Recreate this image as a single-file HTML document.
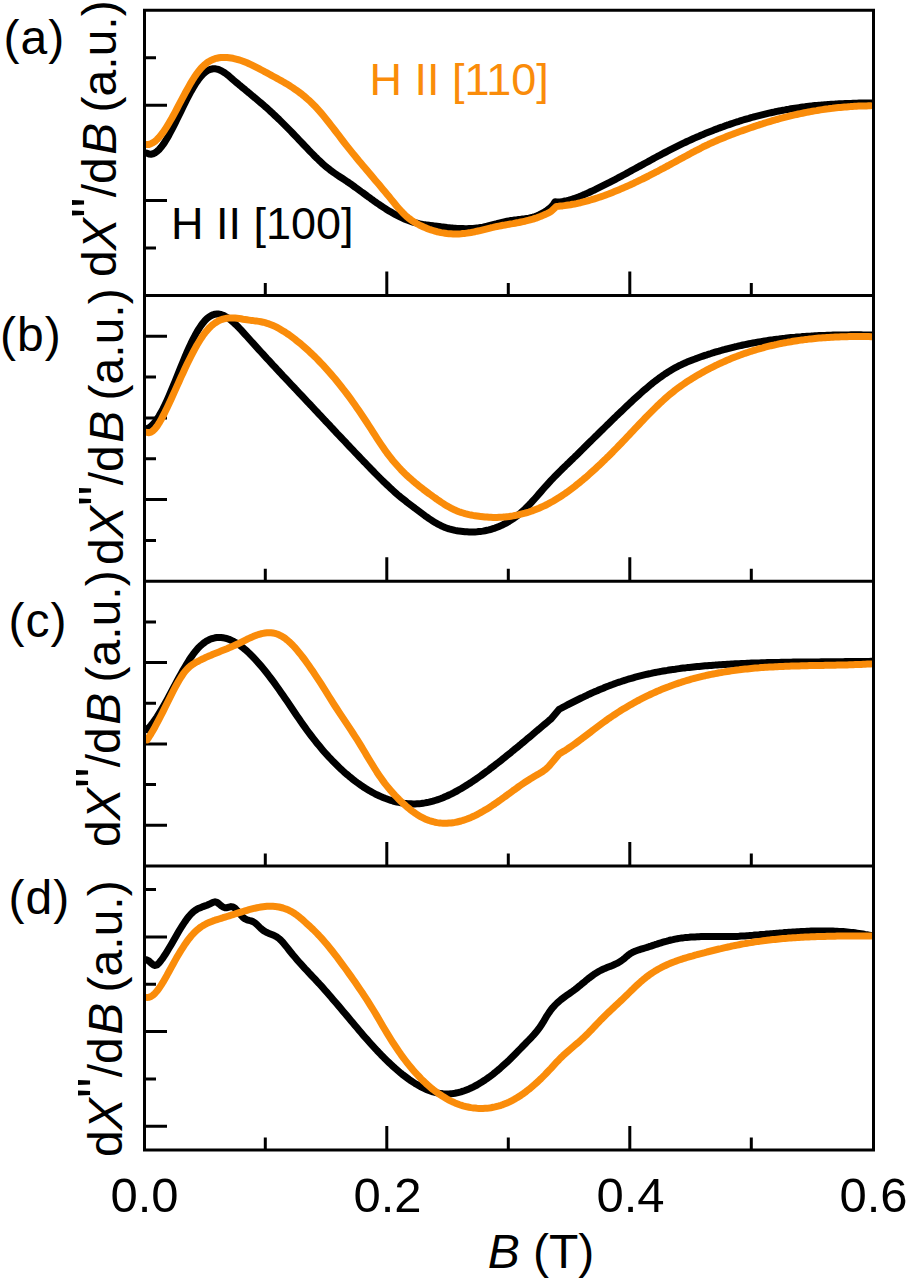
<!DOCTYPE html>
<html><head><meta charset="utf-8"><style>html,body{margin:0;padding:0;background:#fff;width:907px;height:1280px;overflow:hidden}svg{display:block}</style></head>
<body><svg width="907" height="1280" viewBox="0 0 907 1280">
<rect width="907" height="1280" fill="#fff"/>
<g stroke="#000" stroke-width="3" fill="none" stroke-linecap="square">
<rect x="144.5" y="10.25" width="729.0" height="1139.75"/>
<line x1="144.5" y1="295.5" x2="873.5" y2="295.5"/>
<line x1="144.5" y1="581.25" x2="873.5" y2="581.25"/>
<line x1="144.5" y1="865.9" x2="873.5" y2="865.9"/>
</g>
<path d="M265.3,295.5 V283.0 M386.8,295.5 V271.5 M508.3,295.5 V283.0 M629.8,295.5 V271.5 M751.3,295.5 V283.0 M265.3,581.2 V568.8 M386.8,581.2 V557.2 M508.3,581.2 V568.8 M629.8,581.2 V557.2 M751.3,581.2 V568.8 M265.3,865.9 V853.4 M386.8,865.9 V841.9 M508.3,865.9 V853.4 M629.8,865.9 V841.9 M751.3,865.9 V853.4 M265.3,1150.0 V1137.5 M386.8,1150.0 V1126.0 M508.3,1150.0 V1137.5 M629.8,1150.0 V1126.0 M751.3,1150.0 V1137.5 M144.5,57.8 H156.0 M144.5,105.3 H167.0 M144.5,152.9 H156.0 M144.5,200.4 H167.0 M144.5,248.0 H156.0 M144.5,336.3 H167.0 M144.5,377.1 H156.0 M144.5,418.0 H167.0 M144.5,458.8 H156.0 M144.5,499.6 H167.0 M144.5,540.4 H156.0 M144.5,621.9 H156.0 M144.5,662.6 H167.0 M144.5,703.2 H156.0 M144.5,743.9 H167.0 M144.5,784.6 H156.0 M144.5,825.2 H167.0 M144.5,889.6 H156.0 M144.5,936.9 H167.0 M144.5,984.3 H156.0 M144.5,1031.6 H167.0 M144.5,1079.0 H156.0 M144.5,1126.3 H167.0" stroke="#000" stroke-width="3" fill="none"/>
<defs><clipPath id="pc"><rect x="146" y="0" width="726" height="1280"/></clipPath></defs><g clip-path="url(#pc)">
<path d="M147.0,153.2 L149.0,154.0 L151.0,154.2 L153.0,153.8 L155.0,152.8 L157.0,151.4 L159.0,149.6 L161.0,147.3 L163.0,144.7 L165.0,141.7 L167.0,138.4 L169.0,134.9 L171.0,131.2 L173.0,127.4 L175.0,123.4 L177.0,119.3 L179.0,115.2 L181.0,111.1 L183.0,107.0 L185.0,102.9 L187.0,99.0 L189.0,95.1 L191.0,91.4 L193.0,87.9 L195.0,84.6 L197.0,81.6 L199.0,78.8 L201.0,76.3 L203.0,74.1 L205.0,72.3 L207.0,70.9 L209.0,69.8 L211.0,69.2 L213.0,68.8 L215.0,68.8 L217.0,69.1 L219.0,69.7 L221.0,70.6 L223.0,71.7 L225.0,73.0 L227.0,74.5 L229.0,76.1 L231.0,77.8 L233.0,79.6 L235.0,81.3 L237.0,83.0 L239.0,84.7 L241.0,86.3 L243.0,88.0 L245.0,89.6 L247.0,91.3 L249.0,92.9 L251.0,94.6 L253.0,96.3 L255.0,97.9 L257.0,99.6 L259.0,101.3 L261.0,103.0 L263.0,104.7 L265.0,106.5 L267.0,108.2 L269.0,110.0 L271.0,111.9 L273.0,113.7 L275.0,115.6 L277.0,117.5 L279.0,119.4 L281.0,121.4 L283.0,123.4 L285.0,125.4 L287.0,127.4 L289.0,129.4 L291.0,131.4 L293.0,133.5 L295.0,135.6 L297.0,137.7 L299.0,139.8 L301.0,141.9 L303.0,144.0 L305.0,146.1 L307.0,148.2 L309.0,150.3 L311.0,152.4 L313.0,154.4 L315.0,156.5 L317.0,158.4 L319.0,160.4 L321.0,162.2 L323.0,164.1 L325.0,165.8 L327.0,167.5 L329.0,169.1 L331.0,170.7 L333.0,172.1 L335.0,173.5 L337.0,174.9 L339.0,176.2 L341.0,177.5 L343.0,178.8 L345.0,180.1 L347.0,181.5 L349.0,182.8 L351.0,184.2 L353.0,185.6 L355.0,187.1 L357.0,188.5 L359.0,190.0 L361.0,191.5 L363.0,192.9 L365.0,194.4 L367.0,195.9 L369.0,197.3 L371.0,198.8 L373.0,200.2 L375.0,201.7 L377.0,203.1 L379.0,204.4 L381.0,205.8 L383.0,207.1 L385.0,208.4 L387.0,209.7 L389.0,210.9 L391.0,212.1 L393.0,213.3 L395.0,214.4 L397.0,215.4 L399.0,216.4 L401.0,217.4 L403.0,218.3 L405.0,219.2 L407.0,220.0 L409.0,220.7 L411.0,221.4 L413.0,222.1 L415.0,222.7 L417.0,223.2 L419.0,223.7 L421.0,224.1 L423.0,224.5 L425.0,224.8 L427.0,225.1 L429.0,225.3 L431.0,225.6 L433.0,225.8 L435.0,226.1 L437.0,226.3 L439.0,226.5 L441.0,226.8 L443.0,227.0 L445.0,227.2 L447.0,227.5 L449.0,227.7 L451.0,227.9 L453.0,228.1 L455.0,228.2 L457.0,228.4 L459.0,228.5 L461.0,228.6 L463.0,228.6 L465.0,228.7 L467.0,228.7 L469.0,228.6 L471.0,228.5 L473.0,228.4 L475.0,228.2 L477.0,228.0 L479.0,227.8 L481.0,227.4 L483.0,227.1 L485.0,226.6 L487.0,226.2 L489.0,225.7 L491.0,225.2 L493.0,224.7 L495.0,224.2 L497.0,223.7 L499.0,223.1 L501.0,222.6 L503.0,222.1 L505.0,221.7 L507.0,221.3 L509.0,220.9 L511.0,220.5 L513.0,220.3 L515.0,220.0 L517.0,219.8 L519.0,219.5 L521.0,219.3 L523.0,219.0 L525.0,218.8 L527.0,218.4 L529.0,218.1 L531.0,217.6 L533.0,217.1 L535.0,216.5 L537.0,215.8 L539.0,215.0 L541.0,214.0 L543.0,213.0 L545.0,211.7 L547.0,210.3 L549.0,208.8 L551.0,207.0 L553.0,205.1 L555.0,201.8 L557.0,201.9 L559.0,201.9 L561.0,201.7 L563.0,201.4 L565.0,201.0 L567.0,200.6 L569.0,200.1 L571.0,199.5 L573.0,198.9 L575.0,198.2 L577.0,197.5 L579.0,196.8 L581.0,196.0 L583.0,195.1 L585.0,194.3 L587.0,193.4 L589.0,192.5 L591.0,191.5 L593.0,190.6 L595.0,189.7 L597.0,188.7 L599.0,187.7 L601.0,186.7 L603.0,185.7 L605.0,184.7 L607.0,183.7 L609.0,182.7 L611.0,181.6 L613.0,180.6 L615.0,179.6 L617.0,178.5 L619.0,177.4 L621.0,176.4 L623.0,175.3 L625.0,174.2 L627.0,173.1 L629.0,172.0 L631.0,170.9 L633.0,169.8 L635.0,168.7 L637.0,167.6 L639.0,166.5 L641.0,165.5 L643.0,164.4 L645.0,163.3 L647.0,162.2 L649.0,161.1 L651.0,160.0 L653.0,158.9 L655.0,157.8 L657.0,156.7 L659.0,155.7 L661.0,154.6 L663.0,153.5 L665.0,152.5 L667.0,151.5 L669.0,150.4 L671.0,149.4 L673.0,148.4 L675.0,147.4 L677.0,146.4 L679.0,145.4 L681.0,144.4 L683.0,143.4 L685.0,142.5 L687.0,141.5 L689.0,140.6 L691.0,139.7 L693.0,138.8 L695.0,137.9 L697.0,137.0 L699.0,136.2 L701.0,135.3 L703.0,134.5 L705.0,133.6 L707.0,132.8 L709.0,132.0 L711.0,131.2 L713.0,130.4 L715.0,129.6 L717.0,128.9 L719.0,128.1 L721.0,127.4 L723.0,126.7 L725.0,125.9 L727.0,125.2 L729.0,124.6 L731.0,123.9 L733.0,123.2 L735.0,122.5 L737.0,121.9 L739.0,121.3 L741.0,120.6 L743.0,120.0 L745.0,119.4 L747.0,118.8 L749.0,118.3 L751.0,117.7 L753.0,117.2 L755.0,116.6 L757.0,116.1 L759.0,115.6 L761.0,115.1 L763.0,114.6 L765.0,114.1 L767.0,113.6 L769.0,113.1 L771.0,112.7 L773.0,112.3 L775.0,111.8 L777.0,111.4 L779.0,111.0 L781.0,110.6 L783.0,110.2 L785.0,109.9 L787.0,109.5 L789.0,109.2 L791.0,108.8 L793.0,108.5 L795.0,108.2 L797.0,107.9 L799.0,107.6 L801.0,107.3 L803.0,107.0 L805.0,106.8 L807.0,106.5 L809.0,106.3 L811.0,106.1 L813.0,105.8 L815.0,105.6 L817.0,105.4 L819.0,105.2 L821.0,105.1 L823.0,104.9 L825.0,104.7 L827.0,104.6 L829.0,104.4 L831.0,104.3 L833.0,104.2 L835.0,104.1 L837.0,103.9 L839.0,103.8 L841.0,103.7 L843.0,103.7 L845.0,103.6 L847.0,103.5 L849.0,103.4 L851.0,103.4 L853.0,103.3 L855.0,103.2 L857.0,103.2 L859.0,103.1 L861.0,103.1 L863.0,103.1 L865.0,103.0 L867.0,103.0 L869.0,103.0 L871.0,103.0" stroke="#000" stroke-width="7" fill="none" stroke-linejoin="round" stroke-linecap="round"/>
<path d="M147.0,144.5 L149.0,144.4 L151.0,143.7 L153.0,142.7 L155.0,141.3 L157.0,139.5 L159.0,137.4 L161.0,135.0 L163.0,132.4 L165.0,129.5 L167.0,126.3 L169.0,123.0 L171.0,119.6 L173.0,116.0 L175.0,112.3 L177.0,108.5 L179.0,104.7 L181.0,100.9 L183.0,97.1 L185.0,93.3 L187.0,89.7 L189.0,86.1 L191.0,82.6 L193.0,79.3 L195.0,76.2 L197.0,73.3 L199.0,70.7 L201.0,68.3 L203.0,66.3 L205.0,64.4 L207.0,62.8 L209.0,61.5 L211.0,60.4 L213.0,59.5 L215.0,58.7 L217.0,58.2 L219.0,57.8 L221.0,57.5 L223.0,57.4 L225.0,57.4 L227.0,57.5 L229.0,57.7 L231.0,58.0 L233.0,58.3 L235.0,58.8 L237.0,59.3 L239.0,59.9 L241.0,60.5 L243.0,61.2 L245.0,62.0 L247.0,62.8 L249.0,63.7 L251.0,64.6 L253.0,65.6 L255.0,66.6 L257.0,67.6 L259.0,68.6 L261.0,69.7 L263.0,70.8 L265.0,71.9 L267.0,72.9 L269.0,74.0 L271.0,75.1 L273.0,76.2 L275.0,77.3 L277.0,78.4 L279.0,79.5 L281.0,80.6 L283.0,81.8 L285.0,82.9 L287.0,84.1 L289.0,85.3 L291.0,86.6 L293.0,87.9 L295.0,89.3 L297.0,90.7 L299.0,92.1 L301.0,93.6 L303.0,95.2 L305.0,96.8 L307.0,98.6 L309.0,100.3 L311.0,102.2 L313.0,104.2 L315.0,106.2 L317.0,108.4 L319.0,110.6 L321.0,112.9 L323.0,115.3 L325.0,117.7 L327.0,120.2 L329.0,122.7 L331.0,125.3 L333.0,127.9 L335.0,130.5 L337.0,133.1 L339.0,135.7 L341.0,138.4 L343.0,141.0 L345.0,143.6 L347.0,146.1 L349.0,148.6 L351.0,151.1 L353.0,153.6 L355.0,156.0 L357.0,158.5 L359.0,160.9 L361.0,163.3 L363.0,165.7 L365.0,168.1 L367.0,170.4 L369.0,172.8 L371.0,175.1 L373.0,177.5 L375.0,179.9 L377.0,182.2 L379.0,184.6 L381.0,187.0 L383.0,189.4 L385.0,191.8 L387.0,194.2 L389.0,196.6 L391.0,199.1 L393.0,201.5 L395.0,204.0 L397.0,206.4 L399.0,208.7 L401.0,210.9 L403.0,213.0 L405.0,215.0 L407.0,216.8 L409.0,218.4 L411.0,219.9 L413.0,221.3 L415.0,222.5 L417.0,223.7 L419.0,224.8 L421.0,225.8 L423.0,226.7 L425.0,227.6 L427.0,228.4 L429.0,229.2 L431.0,229.9 L433.0,230.5 L435.0,231.1 L437.0,231.7 L439.0,232.1 L441.0,232.6 L443.0,232.9 L445.0,233.2 L447.0,233.5 L449.0,233.7 L451.0,233.8 L453.0,233.9 L455.0,234.0 L457.0,234.0 L459.0,233.9 L461.0,233.8 L463.0,233.6 L465.0,233.4 L467.0,233.1 L469.0,232.8 L471.0,232.5 L473.0,232.1 L475.0,231.7 L477.0,231.2 L479.0,230.8 L481.0,230.3 L483.0,229.8 L485.0,229.3 L487.0,228.8 L489.0,228.3 L491.0,227.8 L493.0,227.4 L495.0,226.9 L497.0,226.5 L499.0,226.1 L501.0,225.7 L503.0,225.3 L505.0,225.0 L507.0,224.6 L509.0,224.3 L511.0,223.9 L513.0,223.6 L515.0,223.2 L517.0,222.8 L519.0,222.5 L521.0,222.0 L523.0,221.6 L525.0,221.2 L527.0,220.7 L529.0,220.2 L531.0,219.6 L533.0,219.1 L535.0,218.4 L537.0,217.8 L539.0,217.0 L541.0,216.3 L543.0,215.4 L545.0,214.5 L547.0,213.6 L549.0,212.6 L551.0,211.5 L556.5,206.4 L558.5,206.3 L560.5,206.1 L562.5,205.9 L564.5,205.6 L566.5,205.3 L568.5,205.0 L570.5,204.7 L572.5,204.3 L574.5,204.0 L576.5,203.6 L578.5,203.1 L580.5,202.7 L582.5,202.2 L584.5,201.7 L586.5,201.2 L588.5,200.6 L590.5,200.0 L592.5,199.4 L594.5,198.8 L596.5,198.2 L598.5,197.5 L600.5,196.9 L602.5,196.2 L604.5,195.5 L606.5,194.7 L608.5,194.0 L610.5,193.2 L612.5,192.4 L614.5,191.6 L616.5,190.8 L618.5,190.0 L620.5,189.1 L622.5,188.3 L624.5,187.4 L626.5,186.5 L628.5,185.6 L630.5,184.7 L632.5,183.8 L634.5,182.8 L636.5,181.9 L638.5,180.9 L640.5,179.9 L642.5,179.0 L644.5,178.0 L646.5,177.0 L648.5,176.0 L650.5,174.9 L652.5,173.9 L654.5,172.9 L656.5,171.8 L658.5,170.8 L660.5,169.7 L662.5,168.7 L664.5,167.6 L666.5,166.5 L668.5,165.5 L670.5,164.4 L672.5,163.3 L674.5,162.2 L676.5,161.1 L678.5,160.0 L680.5,158.9 L682.5,157.9 L684.5,156.8 L686.5,155.7 L688.5,154.6 L690.5,153.5 L692.5,152.4 L694.5,151.4 L696.5,150.3 L698.5,149.3 L700.5,148.3 L702.5,147.2 L704.5,146.2 L706.5,145.3 L708.5,144.3 L710.5,143.4 L712.5,142.5 L714.5,141.6 L716.5,140.7 L718.5,139.8 L720.5,139.0 L722.5,138.2 L724.5,137.4 L726.5,136.6 L728.5,135.8 L730.5,135.0 L732.5,134.3 L734.5,133.5 L736.5,132.8 L738.5,132.0 L740.5,131.3 L742.5,130.6 L744.5,129.9 L746.5,129.2 L748.5,128.5 L750.5,127.8 L752.5,127.1 L754.5,126.4 L756.5,125.7 L758.5,125.1 L760.5,124.4 L762.5,123.8 L764.5,123.1 L766.5,122.5 L768.5,121.9 L770.5,121.3 L772.5,120.7 L774.5,120.1 L776.5,119.5 L778.5,119.0 L780.5,118.4 L782.5,117.9 L784.5,117.4 L786.5,116.9 L788.5,116.4 L790.5,115.9 L792.5,115.4 L794.5,114.9 L796.5,114.5 L798.5,114.0 L800.5,113.6 L802.5,113.2 L804.5,112.8 L806.5,112.4 L808.5,112.0 L810.5,111.6 L812.5,111.2 L814.5,110.9 L816.5,110.6 L818.5,110.2 L820.5,109.9 L822.5,109.6 L824.5,109.3 L826.5,109.0 L828.5,108.8 L830.5,108.5 L832.5,108.3 L834.5,108.0 L836.5,107.8 L838.5,107.6 L840.5,107.4 L842.5,107.2 L844.5,107.0 L846.5,106.9 L848.5,106.7 L850.5,106.6 L852.5,106.4 L854.5,106.3 L856.5,106.2 L858.5,106.1 L860.5,106.0 L862.5,106.0 L864.5,105.9 L866.5,105.9 L868.5,105.8 L870.5,105.8" stroke="#FA8C0A" stroke-width="7" fill="none" stroke-linejoin="round" stroke-linecap="round"/>
<path d="M147.0,428.5 L149.0,427.7 L151.0,426.2 L153.0,424.3 L155.0,422.0 L157.0,419.2 L159.0,416.1 L161.0,412.6 L163.0,408.8 L165.0,404.7 L167.0,400.4 L169.0,395.9 L171.0,391.2 L173.0,386.4 L175.0,381.5 L177.0,376.5 L179.0,371.5 L181.0,366.6 L183.0,361.7 L185.0,356.9 L187.0,352.2 L189.0,347.7 L191.0,343.4 L193.0,339.4 L195.0,335.5 L197.0,331.9 L199.0,328.6 L201.0,325.6 L203.0,322.9 L205.0,320.5 L207.0,318.5 L209.0,316.9 L211.0,315.7 L213.0,314.8 L215.0,314.2 L217.0,314.0 L219.0,314.1 L221.0,314.5 L223.0,315.2 L225.0,316.2 L227.0,317.3 L229.0,318.7 L231.0,320.3 L233.0,322.0 L235.0,323.9 L237.0,325.8 L239.0,327.8 L241.0,329.9 L243.0,332.1 L245.0,334.3 L247.0,336.5 L249.0,338.8 L251.0,341.0 L253.0,343.2 L255.0,345.4 L257.0,347.6 L259.0,349.8 L261.0,352.0 L263.0,354.2 L265.0,356.4 L267.0,358.6 L269.0,360.7 L271.0,362.9 L273.0,365.1 L275.0,367.2 L277.0,369.4 L279.0,371.5 L281.0,373.6 L283.0,375.8 L285.0,377.9 L287.0,380.0 L289.0,382.2 L291.0,384.3 L293.0,386.4 L295.0,388.5 L297.0,390.7 L299.0,392.8 L301.0,394.9 L303.0,397.0 L305.0,399.2 L307.0,401.3 L309.0,403.4 L311.0,405.5 L313.0,407.7 L315.0,409.8 L317.0,411.9 L319.0,414.1 L321.0,416.2 L323.0,418.3 L325.0,420.5 L327.0,422.6 L329.0,424.7 L331.0,426.9 L333.0,429.0 L335.0,431.1 L337.0,433.3 L339.0,435.4 L341.0,437.5 L343.0,439.6 L345.0,441.7 L347.0,443.9 L349.0,446.0 L351.0,448.1 L353.0,450.2 L355.0,452.3 L357.0,454.4 L359.0,456.5 L361.0,458.6 L363.0,460.7 L365.0,462.7 L367.0,464.8 L369.0,466.9 L371.0,469.0 L373.0,471.0 L375.0,473.1 L377.0,475.1 L379.0,477.1 L381.0,479.1 L383.0,481.1 L385.0,483.0 L387.0,484.9 L389.0,486.8 L391.0,488.7 L393.0,490.5 L395.0,492.3 L397.0,494.1 L399.0,495.8 L401.0,497.4 L403.0,499.0 L405.0,500.6 L407.0,502.2 L409.0,503.7 L411.0,505.2 L413.0,506.7 L415.0,508.3 L417.0,509.8 L419.0,511.3 L421.0,512.8 L423.0,514.3 L425.0,515.8 L427.0,517.2 L429.0,518.6 L431.0,519.9 L433.0,521.2 L435.0,522.4 L437.0,523.6 L439.0,524.7 L441.0,525.7 L443.0,526.6 L445.0,527.5 L447.0,528.2 L449.0,528.9 L451.0,529.4 L453.0,529.9 L455.0,530.4 L457.0,530.7 L459.0,531.1 L461.0,531.3 L463.0,531.5 L465.0,531.7 L467.0,531.8 L469.0,531.9 L471.0,531.9 L473.0,531.9 L475.0,531.9 L477.0,531.8 L479.0,531.6 L481.0,531.4 L483.0,531.1 L485.0,530.7 L487.0,530.3 L489.0,529.9 L491.0,529.3 L493.0,528.7 L495.0,528.1 L497.0,527.3 L499.0,526.5 L501.0,525.6 L503.0,524.7 L505.0,523.7 L507.0,522.6 L509.0,521.4 L511.0,520.1 L513.0,518.8 L515.0,517.4 L517.0,515.9 L519.0,514.3 L521.0,512.6 L523.0,510.8 L525.0,509.0 L527.0,507.0 L529.0,505.0 L531.0,502.9 L533.0,500.7 L535.0,498.5 L537.0,496.2 L539.0,493.9 L541.0,491.6 L543.0,489.3 L545.0,487.0 L547.0,484.8 L549.0,482.6 L551.0,480.4 L553.0,478.3 L555.0,476.2 L557.0,474.2 L559.0,472.2 L561.0,470.3 L563.0,468.3 L565.0,466.4 L567.0,464.4 L569.0,462.5 L571.0,460.5 L573.0,458.6 L575.0,456.6 L577.0,454.7 L579.0,452.7 L581.0,450.7 L583.0,448.8 L585.0,446.8 L587.0,444.8 L589.0,442.8 L591.0,440.9 L593.0,438.9 L595.0,436.9 L597.0,435.0 L599.0,433.0 L601.0,431.0 L603.0,429.1 L605.0,427.1 L607.0,425.1 L609.0,423.2 L611.0,421.2 L613.0,419.3 L615.0,417.4 L617.0,415.4 L619.0,413.5 L621.0,411.6 L623.0,409.7 L625.0,407.8 L627.0,405.9 L629.0,404.0 L631.0,402.1 L633.0,400.2 L635.0,398.4 L637.0,396.6 L639.0,394.8 L641.0,393.0 L643.0,391.2 L645.0,389.5 L647.0,387.8 L649.0,386.1 L651.0,384.4 L653.0,382.8 L655.0,381.3 L657.0,379.7 L659.0,378.2 L661.0,376.8 L663.0,375.4 L665.0,374.0 L667.0,372.7 L669.0,371.4 L671.0,370.2 L673.0,369.0 L675.0,367.9 L677.0,366.9 L679.0,365.8 L681.0,364.9 L683.0,363.9 L685.0,363.0 L687.0,362.1 L689.0,361.3 L691.0,360.5 L693.0,359.7 L695.0,359.0 L697.0,358.2 L699.0,357.5 L701.0,356.8 L703.0,356.1 L705.0,355.4 L707.0,354.8 L709.0,354.1 L711.0,353.5 L713.0,352.8 L715.0,352.2 L717.0,351.6 L719.0,351.1 L721.0,350.5 L723.0,349.9 L725.0,349.4 L727.0,348.8 L729.0,348.3 L731.0,347.8 L733.0,347.3 L735.0,346.8 L737.0,346.4 L739.0,345.9 L741.0,345.5 L743.0,345.0 L745.0,344.6 L747.0,344.2 L749.0,343.8 L751.0,343.4 L753.0,343.0 L755.0,342.6 L757.0,342.3 L759.0,341.9 L761.0,341.6 L763.0,341.3 L765.0,340.9 L767.0,340.6 L769.0,340.3 L771.0,340.0 L773.0,339.8 L775.0,339.5 L777.0,339.2 L779.0,339.0 L781.0,338.7 L783.0,338.5 L785.0,338.3 L787.0,338.0 L789.0,337.8 L791.0,337.6 L793.0,337.4 L795.0,337.3 L797.0,337.1 L799.0,336.9 L801.0,336.8 L803.0,336.6 L805.0,336.5 L807.0,336.3 L809.0,336.2 L811.0,336.1 L813.0,335.9 L815.0,335.8 L817.0,335.7 L819.0,335.6 L821.0,335.5 L823.0,335.5 L825.0,335.4 L827.0,335.3 L829.0,335.2 L831.0,335.2 L833.0,335.1 L835.0,335.1 L837.0,335.0 L839.0,335.0 L841.0,334.9 L843.0,334.9 L845.0,334.9 L847.0,334.9 L849.0,334.9 L851.0,334.8 L853.0,334.8 L855.0,334.8 L857.0,334.8 L859.0,334.8 L861.0,334.8 L863.0,334.9 L865.0,334.9 L867.0,334.9 L869.0,334.9 L871.0,334.9" stroke="#000" stroke-width="7" fill="none" stroke-linejoin="round" stroke-linecap="round"/>
<path d="M147.0,432.4 L149.0,432.7 L151.0,432.1 L153.0,430.8 L155.0,428.8 L157.0,426.3 L159.0,423.2 L161.0,419.8 L163.0,416.0 L165.0,412.1 L167.0,407.9 L169.0,403.7 L171.0,399.4 L173.0,395.0 L175.0,390.6 L177.0,386.1 L179.0,381.7 L181.0,377.2 L183.0,372.9 L185.0,368.5 L187.0,364.3 L189.0,360.2 L191.0,356.2 L193.0,352.3 L195.0,348.6 L197.0,345.0 L199.0,341.7 L201.0,338.5 L203.0,335.5 L205.0,332.8 L207.0,330.4 L209.0,328.1 L211.0,326.2 L213.0,324.5 L215.0,323.0 L217.0,321.7 L219.0,320.6 L221.0,319.8 L223.0,319.1 L225.0,318.6 L227.0,318.2 L229.0,318.0 L231.0,318.0 L233.0,318.0 L235.0,318.1 L237.0,318.3 L239.0,318.5 L241.0,318.8 L243.0,319.2 L245.0,319.5 L247.0,319.8 L249.0,320.1 L251.0,320.4 L253.0,320.6 L255.0,320.9 L257.0,321.1 L259.0,321.4 L261.0,321.8 L263.0,322.2 L265.0,322.7 L267.0,323.3 L269.0,323.9 L271.0,324.7 L273.0,325.5 L275.0,326.4 L277.0,327.4 L279.0,328.5 L281.0,329.7 L283.0,330.9 L285.0,332.1 L287.0,333.5 L289.0,334.8 L291.0,336.3 L293.0,337.8 L295.0,339.3 L297.0,340.9 L299.0,342.5 L301.0,344.1 L303.0,345.8 L305.0,347.6 L307.0,349.4 L309.0,351.2 L311.0,353.1 L313.0,355.0 L315.0,356.9 L317.0,358.9 L319.0,361.0 L321.0,363.1 L323.0,365.2 L325.0,367.4 L327.0,369.6 L329.0,371.8 L331.0,374.1 L333.0,376.5 L335.0,378.8 L337.0,381.3 L339.0,383.7 L341.0,386.2 L343.0,388.8 L345.0,391.4 L347.0,394.0 L349.0,396.7 L351.0,399.4 L353.0,402.2 L355.0,405.0 L357.0,407.9 L359.0,410.8 L361.0,413.7 L363.0,416.7 L365.0,419.7 L367.0,422.7 L369.0,425.8 L371.0,428.9 L373.0,432.1 L375.0,435.2 L377.0,438.3 L379.0,441.4 L381.0,444.4 L383.0,447.3 L385.0,450.2 L387.0,453.0 L389.0,455.6 L391.0,458.2 L393.0,460.7 L395.0,463.0 L397.0,465.3 L399.0,467.5 L401.0,469.7 L403.0,471.7 L405.0,473.7 L407.0,475.6 L409.0,477.5 L411.0,479.2 L413.0,481.0 L415.0,482.7 L417.0,484.3 L419.0,485.9 L421.0,487.5 L423.0,489.1 L425.0,490.6 L427.0,492.1 L429.0,493.6 L431.0,495.0 L433.0,496.5 L435.0,497.9 L437.0,499.4 L439.0,500.7 L441.0,502.1 L443.0,503.4 L445.0,504.7 L447.0,505.9 L449.0,507.0 L451.0,508.1 L453.0,509.1 L455.0,510.1 L457.0,510.9 L459.0,511.7 L461.0,512.4 L463.0,513.0 L465.0,513.6 L467.0,514.1 L469.0,514.6 L471.0,515.0 L473.0,515.4 L475.0,515.7 L477.0,516.0 L479.0,516.3 L481.0,516.6 L483.0,516.8 L485.0,517.0 L487.0,517.1 L489.0,517.3 L491.0,517.3 L493.0,517.4 L495.0,517.4 L497.0,517.4 L499.0,517.3 L501.0,517.2 L503.0,517.1 L505.0,516.9 L507.0,516.7 L509.0,516.5 L511.0,516.2 L513.0,515.9 L515.0,515.5 L517.0,515.1 L519.0,514.7 L521.0,514.2 L523.0,513.7 L525.0,513.2 L527.0,512.6 L529.0,512.0 L531.0,511.3 L533.0,510.6 L535.0,509.8 L537.0,509.0 L539.0,508.2 L541.0,507.3 L543.0,506.4 L545.0,505.5 L547.0,504.5 L549.0,503.4 L551.0,502.3 L553.0,501.2 L555.0,500.0 L557.0,498.8 L559.0,497.6 L561.0,496.3 L563.0,494.9 L565.0,493.6 L567.0,492.2 L569.0,490.7 L571.0,489.2 L573.0,487.7 L575.0,486.2 L577.0,484.6 L579.0,483.0 L581.0,481.3 L583.0,479.7 L585.0,478.0 L587.0,476.3 L589.0,474.5 L591.0,472.7 L593.0,470.9 L595.0,469.1 L597.0,467.2 L599.0,465.4 L601.0,463.5 L603.0,461.5 L605.0,459.6 L607.0,457.6 L609.0,455.7 L611.0,453.7 L613.0,451.7 L615.0,449.6 L617.0,447.6 L619.0,445.5 L621.0,443.5 L623.0,441.4 L625.0,439.3 L627.0,437.2 L629.0,435.1 L631.0,432.9 L633.0,430.8 L635.0,428.7 L637.0,426.6 L639.0,424.5 L641.0,422.4 L643.0,420.3 L645.0,418.2 L647.0,416.1 L649.0,414.1 L651.0,412.1 L653.0,410.1 L655.0,408.1 L657.0,406.1 L659.0,404.2 L661.0,402.3 L663.0,400.5 L665.0,398.7 L667.0,396.9 L669.0,395.2 L671.0,393.5 L673.0,391.9 L675.0,390.3 L677.0,388.8 L679.0,387.3 L681.0,385.9 L683.0,384.5 L685.0,383.1 L687.0,381.7 L689.0,380.4 L691.0,379.2 L693.0,377.9 L695.0,376.7 L697.0,375.5 L699.0,374.4 L701.0,373.2 L703.0,372.1 L705.0,371.0 L707.0,369.9 L709.0,368.9 L711.0,367.8 L713.0,366.8 L715.0,365.8 L717.0,364.9 L719.0,363.9 L721.0,363.0 L723.0,362.1 L725.0,361.2 L727.0,360.3 L729.0,359.5 L731.0,358.6 L733.0,357.8 L735.0,357.0 L737.0,356.3 L739.0,355.5 L741.0,354.8 L743.0,354.0 L745.0,353.3 L747.0,352.7 L749.0,352.0 L751.0,351.3 L753.0,350.7 L755.0,350.1 L757.0,349.5 L759.0,348.9 L761.0,348.3 L763.0,347.8 L765.0,347.2 L767.0,346.7 L769.0,346.2 L771.0,345.7 L773.0,345.3 L775.0,344.8 L777.0,344.4 L779.0,343.9 L781.0,343.5 L783.0,343.1 L785.0,342.7 L787.0,342.4 L789.0,342.0 L791.0,341.7 L793.0,341.3 L795.0,341.0 L797.0,340.7 L799.0,340.4 L801.0,340.1 L803.0,339.9 L805.0,339.6 L807.0,339.4 L809.0,339.1 L811.0,338.9 L813.0,338.7 L815.0,338.5 L817.0,338.3 L819.0,338.1 L821.0,338.0 L823.0,337.8 L825.0,337.7 L827.0,337.5 L829.0,337.4 L831.0,337.3 L833.0,337.2 L835.0,337.1 L837.0,337.0 L839.0,336.9 L841.0,336.8 L843.0,336.8 L845.0,336.7 L847.0,336.7 L849.0,336.6 L851.0,336.6 L853.0,336.6 L855.0,336.6 L857.0,336.6 L859.0,336.6 L861.0,336.6 L863.0,336.6 L865.0,336.6 L867.0,336.6 L869.0,336.6 L871.0,336.7" stroke="#FA8C0A" stroke-width="7" fill="none" stroke-linejoin="round" stroke-linecap="round"/>
<path d="M147.0,729.5 L149.0,727.5 L151.0,725.2 L153.0,722.6 L155.0,719.8 L157.0,716.9 L159.0,713.7 L161.0,710.4 L163.0,707.0 L165.0,703.5 L167.0,699.9 L169.0,696.2 L171.0,692.5 L173.0,688.7 L175.0,685.0 L177.0,681.2 L179.0,677.5 L181.0,673.9 L183.0,670.3 L185.0,666.9 L187.0,663.5 L189.0,660.3 L191.0,657.3 L193.0,654.4 L195.0,651.8 L197.0,649.4 L199.0,647.2 L201.0,645.3 L203.0,643.6 L205.0,642.1 L207.0,640.8 L209.0,639.8 L211.0,638.9 L213.0,638.3 L215.0,637.8 L217.0,637.5 L219.0,637.4 L221.0,637.5 L223.0,637.7 L225.0,638.1 L227.0,638.7 L229.0,639.3 L231.0,640.2 L233.0,641.1 L235.0,642.2 L237.0,643.5 L239.0,644.8 L241.0,646.2 L243.0,647.8 L245.0,649.4 L247.0,651.2 L249.0,653.0 L251.0,655.0 L253.0,657.0 L255.0,659.1 L257.0,661.3 L259.0,663.6 L261.0,665.9 L263.0,668.3 L265.0,670.8 L267.0,673.3 L269.0,675.9 L271.0,678.5 L273.0,681.2 L275.0,683.9 L277.0,686.7 L279.0,689.5 L281.0,692.4 L283.0,695.3 L285.0,698.2 L287.0,701.1 L289.0,704.0 L291.0,707.0 L293.0,710.0 L295.0,713.0 L297.0,715.9 L299.0,718.8 L301.0,721.8 L303.0,724.6 L305.0,727.4 L307.0,730.2 L309.0,732.9 L311.0,735.5 L313.0,738.1 L315.0,740.7 L317.0,743.2 L319.0,745.6 L321.0,748.0 L323.0,750.4 L325.0,752.7 L327.0,754.9 L329.0,757.1 L331.0,759.2 L333.0,761.3 L335.0,763.3 L337.0,765.3 L339.0,767.3 L341.0,769.2 L343.0,771.0 L345.0,772.8 L347.0,774.5 L349.0,776.2 L351.0,777.8 L353.0,779.4 L355.0,781.0 L357.0,782.5 L359.0,783.9 L361.0,785.3 L363.0,786.7 L365.0,788.0 L367.0,789.2 L369.0,790.4 L371.0,791.6 L373.0,792.7 L375.0,793.8 L377.0,794.8 L379.0,795.7 L381.0,796.6 L383.0,797.5 L385.0,798.3 L387.0,799.0 L389.0,799.7 L391.0,800.4 L393.0,801.0 L395.0,801.5 L397.0,802.0 L399.0,802.4 L401.0,802.8 L403.0,803.1 L405.0,803.4 L407.0,803.6 L409.0,803.7 L411.0,803.8 L413.0,803.9 L415.0,803.9 L417.0,803.8 L419.0,803.7 L421.0,803.5 L423.0,803.2 L425.0,802.9 L427.0,802.5 L429.0,802.1 L431.0,801.6 L433.0,801.1 L435.0,800.5 L437.0,799.9 L439.0,799.2 L441.0,798.5 L443.0,797.7 L445.0,796.8 L447.0,796.0 L449.0,795.0 L451.0,794.1 L453.0,793.1 L455.0,792.0 L457.0,791.0 L459.0,789.8 L461.0,788.7 L463.0,787.5 L465.0,786.3 L467.0,785.0 L469.0,783.8 L471.0,782.5 L473.0,781.1 L475.0,779.8 L477.0,778.4 L479.0,777.0 L481.0,775.6 L483.0,774.1 L485.0,772.6 L487.0,771.2 L489.0,769.7 L491.0,768.1 L493.0,766.6 L495.0,765.1 L497.0,763.5 L499.0,762.0 L501.0,760.4 L503.0,758.8 L505.0,757.2 L507.0,755.6 L509.0,754.0 L511.0,752.4 L513.0,750.7 L515.0,749.1 L517.0,747.5 L519.0,745.8 L521.0,744.2 L523.0,742.5 L525.0,740.8 L527.0,739.1 L529.0,737.5 L531.0,735.8 L533.0,734.1 L535.0,732.4 L537.0,730.7 L539.0,729.1 L541.0,727.4 L543.0,725.7 L545.0,724.0 L547.0,722.3 L549.0,720.6 L551.0,719.0 L559.2,709.3 L561.2,708.2 L563.2,707.1 L565.2,706.1 L567.2,705.0 L569.2,704.0 L571.2,703.0 L573.2,702.0 L575.2,701.0 L577.2,700.0 L579.2,699.0 L581.2,698.0 L583.2,697.1 L585.2,696.1 L587.2,695.2 L589.2,694.2 L591.2,693.3 L593.2,692.4 L595.2,691.5 L597.2,690.7 L599.2,689.8 L601.2,689.0 L603.2,688.2 L605.2,687.3 L607.2,686.5 L609.2,685.8 L611.2,685.0 L613.2,684.3 L615.2,683.5 L617.2,682.8 L619.2,682.1 L621.2,681.5 L623.2,680.8 L625.2,680.2 L627.2,679.5 L629.2,678.9 L631.2,678.4 L633.2,677.8 L635.2,677.2 L637.2,676.7 L639.2,676.2 L641.2,675.7 L643.2,675.2 L645.2,674.7 L647.2,674.2 L649.2,673.8 L651.2,673.4 L653.2,672.9 L655.2,672.5 L657.2,672.1 L659.2,671.8 L661.2,671.4 L663.2,671.0 L665.2,670.7 L667.2,670.4 L669.2,670.0 L671.2,669.7 L673.2,669.4 L675.2,669.2 L677.2,668.9 L679.2,668.6 L681.2,668.3 L683.2,668.1 L685.2,667.9 L687.2,667.6 L689.2,667.4 L691.2,667.2 L693.2,667.0 L695.2,666.8 L697.2,666.6 L699.2,666.4 L701.2,666.2 L703.2,666.0 L705.2,665.8 L707.2,665.7 L709.2,665.5 L711.2,665.4 L713.2,665.2 L715.2,665.1 L717.2,664.9 L719.2,664.8 L721.2,664.7 L723.2,664.5 L725.2,664.4 L727.2,664.3 L729.2,664.2 L731.2,664.1 L733.2,664.0 L735.2,663.8 L737.2,663.7 L739.2,663.7 L741.2,663.6 L743.2,663.5 L745.2,663.4 L747.2,663.3 L749.2,663.2 L751.2,663.1 L753.2,663.1 L755.2,663.0 L757.2,662.9 L759.2,662.9 L761.2,662.8 L763.2,662.7 L765.2,662.7 L767.2,662.6 L769.2,662.6 L771.2,662.5 L773.2,662.5 L775.2,662.4 L777.2,662.4 L779.2,662.4 L781.2,662.3 L783.2,662.3 L785.2,662.2 L787.2,662.2 L789.2,662.2 L791.2,662.2 L793.2,662.1 L795.2,662.1 L797.2,662.1 L799.2,662.0 L801.2,662.0 L803.2,662.0 L805.2,662.0 L807.2,662.0 L809.2,661.9 L811.2,661.9 L813.2,661.9 L815.2,661.9 L817.2,661.9 L819.2,661.9 L821.2,661.8 L823.2,661.8 L825.2,661.8 L827.2,661.8 L829.2,661.8 L831.2,661.8 L833.2,661.7 L835.2,661.7 L837.2,661.7 L839.2,661.7 L841.2,661.7 L843.2,661.7 L845.2,661.6 L847.2,661.6 L849.2,661.6 L851.2,661.6 L853.2,661.6 L855.2,661.5 L857.2,661.5 L859.2,661.5 L861.2,661.5 L863.2,661.4 L865.2,661.4 L867.2,661.4 L869.2,661.4 L871.2,661.3" stroke="#000" stroke-width="7" fill="none" stroke-linejoin="round" stroke-linecap="round"/>
<path d="M147.0,739.9 L149.0,737.0 L151.0,733.8 L153.0,730.4 L155.0,726.9 L157.0,723.2 L159.0,719.4 L161.0,715.5 L163.0,711.6 L165.0,707.5 L167.0,703.5 L169.0,699.5 L171.0,695.5 L173.0,691.5 L175.0,687.7 L177.0,684.0 L179.0,680.5 L181.0,677.2 L183.0,674.2 L185.0,671.5 L187.0,669.2 L189.0,667.2 L191.0,665.6 L193.0,664.2 L195.0,662.9 L197.0,661.8 L199.0,660.8 L201.0,659.7 L203.0,658.8 L205.0,657.8 L207.0,656.9 L209.0,656.0 L211.0,655.2 L213.0,654.3 L215.0,653.5 L217.0,652.7 L219.0,651.9 L221.0,651.1 L223.0,650.3 L225.0,649.5 L227.0,648.7 L229.0,647.8 L231.0,647.0 L233.0,646.1 L235.0,645.2 L237.0,644.3 L239.0,643.3 L241.0,642.3 L243.0,641.3 L245.0,640.3 L247.0,639.3 L249.0,638.4 L251.0,637.5 L253.0,636.6 L255.0,635.8 L257.0,635.0 L259.0,634.4 L261.0,633.8 L263.0,633.4 L265.0,633.0 L267.0,632.8 L269.0,632.7 L271.0,632.8 L273.0,633.0 L275.0,633.4 L277.0,634.0 L279.0,634.8 L281.0,635.8 L283.0,637.0 L285.0,638.3 L287.0,639.9 L289.0,641.6 L291.0,643.5 L293.0,645.5 L295.0,647.7 L297.0,650.0 L299.0,652.4 L301.0,654.9 L303.0,657.5 L305.0,660.2 L307.0,663.0 L309.0,665.8 L311.0,668.7 L313.0,671.6 L315.0,674.6 L317.0,677.6 L319.0,680.6 L321.0,683.7 L323.0,686.8 L325.0,690.0 L327.0,693.3 L329.0,696.5 L331.0,699.7 L333.0,702.9 L335.0,706.0 L337.0,709.0 L339.0,712.1 L341.0,715.1 L343.0,718.1 L345.0,721.1 L347.0,724.1 L349.0,727.1 L351.0,730.2 L353.0,733.2 L355.0,736.3 L357.0,739.4 L359.0,742.6 L361.0,745.9 L363.0,749.2 L365.0,752.5 L367.0,755.9 L369.0,759.2 L371.0,762.5 L373.0,765.8 L375.0,769.0 L377.0,772.2 L379.0,775.2 L381.0,778.1 L383.0,780.9 L385.0,783.6 L387.0,786.1 L389.0,788.5 L391.0,790.9 L393.0,793.1 L395.0,795.3 L397.0,797.4 L399.0,799.5 L401.0,801.5 L403.0,803.4 L405.0,805.2 L407.0,807.0 L409.0,808.6 L411.0,810.2 L413.0,811.7 L415.0,813.1 L417.0,814.5 L419.0,815.7 L421.0,816.9 L423.0,817.9 L425.0,818.9 L427.0,819.7 L429.0,820.5 L431.0,821.1 L433.0,821.7 L435.0,822.2 L437.0,822.6 L439.0,822.9 L441.0,823.1 L443.0,823.2 L445.0,823.3 L447.0,823.3 L449.0,823.1 L451.0,823.0 L453.0,822.7 L455.0,822.4 L457.0,822.0 L459.0,821.5 L461.0,821.0 L463.0,820.4 L465.0,819.7 L467.0,819.0 L469.0,818.2 L471.0,817.4 L473.0,816.5 L475.0,815.6 L477.0,814.6 L479.0,813.5 L481.0,812.4 L483.0,811.3 L485.0,810.1 L487.0,808.9 L489.0,807.7 L491.0,806.4 L493.0,805.0 L495.0,803.7 L497.0,802.3 L499.0,800.9 L501.0,799.5 L503.0,798.0 L505.0,796.6 L507.0,795.1 L509.0,793.7 L511.0,792.2 L513.0,790.7 L515.0,789.3 L517.0,787.9 L519.0,786.4 L521.0,785.0 L523.0,783.6 L525.0,782.3 L527.0,781.0 L529.0,779.7 L531.0,778.4 L533.0,777.2 L535.0,776.0 L537.0,774.9 L539.0,773.8 L541.0,772.6 L543.0,771.3 L545.0,769.8 L547.0,768.1 L549.0,766.1 L551.0,763.8 L559.2,754.0 L561.2,752.8 L563.2,751.6 L565.2,750.4 L567.2,749.1 L569.2,747.7 L571.2,746.4 L573.2,745.0 L575.2,743.6 L577.2,742.1 L579.2,740.6 L581.2,739.2 L583.2,737.6 L585.2,736.1 L587.2,734.6 L589.2,733.1 L591.2,731.6 L593.2,730.0 L595.2,728.5 L597.2,727.0 L599.2,725.5 L601.2,724.0 L603.2,722.5 L605.2,721.1 L607.2,719.6 L609.2,718.2 L611.2,716.9 L613.2,715.5 L615.2,714.2 L617.2,712.9 L619.2,711.6 L621.2,710.3 L623.2,709.1 L625.2,707.9 L627.2,706.7 L629.2,705.5 L631.2,704.4 L633.2,703.2 L635.2,702.1 L637.2,701.0 L639.2,700.0 L641.2,698.9 L643.2,697.9 L645.2,696.9 L647.2,695.9 L649.2,695.0 L651.2,694.0 L653.2,693.1 L655.2,692.2 L657.2,691.3 L659.2,690.5 L661.2,689.6 L663.2,688.8 L665.2,688.0 L667.2,687.2 L669.2,686.5 L671.2,685.7 L673.2,685.0 L675.2,684.3 L677.2,683.6 L679.2,682.9 L681.2,682.3 L683.2,681.6 L685.2,681.0 L687.2,680.4 L689.2,679.8 L691.2,679.2 L693.2,678.7 L695.2,678.1 L697.2,677.6 L699.2,677.1 L701.2,676.6 L703.2,676.1 L705.2,675.7 L707.2,675.2 L709.2,674.8 L711.2,674.4 L713.2,674.0 L715.2,673.6 L717.2,673.2 L719.2,672.8 L721.2,672.5 L723.2,672.1 L725.2,671.8 L727.2,671.5 L729.2,671.2 L731.2,670.9 L733.2,670.6 L735.2,670.3 L737.2,670.0 L739.2,669.8 L741.2,669.5 L743.2,669.3 L745.2,669.1 L747.2,668.9 L749.2,668.7 L751.2,668.5 L753.2,668.3 L755.2,668.1 L757.2,667.9 L759.2,667.8 L761.2,667.6 L763.2,667.5 L765.2,667.3 L767.2,667.2 L769.2,667.1 L771.2,667.0 L773.2,666.9 L775.2,666.8 L777.2,666.7 L779.2,666.6 L781.2,666.5 L783.2,666.4 L785.2,666.3 L787.2,666.2 L789.2,666.2 L791.2,666.1 L793.2,666.0 L795.2,666.0 L797.2,665.9 L799.2,665.9 L801.2,665.8 L803.2,665.8 L805.2,665.7 L807.2,665.7 L809.2,665.6 L811.2,665.6 L813.2,665.6 L815.2,665.5 L817.2,665.5 L819.2,665.5 L821.2,665.4 L823.2,665.4 L825.2,665.3 L827.2,665.3 L829.2,665.3 L831.2,665.2 L833.2,665.2 L835.2,665.2 L837.2,665.1 L839.2,665.1 L841.2,665.0 L843.2,665.0 L845.2,664.9 L847.2,664.9 L849.2,664.8 L851.2,664.8 L853.2,664.7 L855.2,664.6 L857.2,664.5 L859.2,664.5 L861.2,664.4 L863.2,664.3 L865.2,664.2 L867.2,664.1 L869.2,664.0 L871.2,663.9" stroke="#FA8C0A" stroke-width="7" fill="none" stroke-linejoin="round" stroke-linecap="round"/>
<path d="M147.0,959.9 L149.0,961.1 L151.0,963.0 L153.0,964.7 L155.0,965.5 L157.0,964.9 L159.0,963.0 L161.0,960.5 L163.0,957.8 L165.0,954.8 L167.0,951.6 L169.0,948.3 L171.0,944.9 L173.0,941.4 L175.0,938.0 L177.0,934.5 L179.0,931.1 L181.0,927.8 L183.0,924.6 L185.0,921.6 L187.0,918.8 L189.0,916.3 L191.0,914.0 L193.0,912.1 L195.0,910.5 L197.0,909.2 L199.0,908.2 L201.0,907.4 L203.0,906.6 L205.0,905.9 L207.0,905.2 L209.0,904.3 L211.0,903.3 L213.0,902.3 L215.0,901.8 L217.0,902.4 L219.0,903.9 L221.0,905.6 L223.0,907.0 L225.0,907.7 L227.0,907.7 L229.0,907.1 L231.0,906.6 L233.0,906.9 L235.0,908.2 L237.0,910.3 L239.0,912.7 L241.0,915.2 L243.0,917.4 L245.0,918.9 L247.0,919.8 L249.0,920.4 L251.0,920.9 L253.0,921.6 L255.0,922.9 L257.0,924.6 L259.0,926.6 L261.0,928.6 L263.0,930.2 L265.0,931.5 L267.0,932.6 L269.0,933.4 L271.0,934.2 L273.0,935.0 L275.0,935.9 L277.0,937.1 L279.0,938.5 L281.0,940.4 L283.0,942.5 L285.0,944.9 L287.0,947.4 L289.0,950.0 L291.0,952.5 L293.0,955.0 L295.0,957.3 L297.0,959.7 L299.0,962.0 L301.0,964.2 L303.0,966.4 L305.0,968.6 L307.0,970.7 L309.0,972.9 L311.0,975.0 L313.0,977.1 L315.0,979.2 L317.0,981.4 L319.0,983.5 L321.0,985.7 L323.0,987.9 L325.0,990.2 L327.0,992.4 L329.0,994.7 L331.0,997.0 L333.0,999.4 L335.0,1001.7 L337.0,1004.1 L339.0,1006.4 L341.0,1008.8 L343.0,1011.2 L345.0,1013.6 L347.0,1015.9 L349.0,1018.3 L351.0,1020.7 L353.0,1023.1 L355.0,1025.5 L357.0,1027.8 L359.0,1030.2 L361.0,1032.5 L363.0,1034.9 L365.0,1037.2 L367.0,1039.4 L369.0,1041.7 L371.0,1044.0 L373.0,1046.2 L375.0,1048.3 L377.0,1050.5 L379.0,1052.6 L381.0,1054.7 L383.0,1056.7 L385.0,1058.8 L387.0,1060.7 L389.0,1062.6 L391.0,1064.5 L393.0,1066.4 L395.0,1068.2 L397.0,1069.9 L399.0,1071.6 L401.0,1073.3 L403.0,1074.9 L405.0,1076.4 L407.0,1077.9 L409.0,1079.4 L411.0,1080.8 L413.0,1082.1 L415.0,1083.4 L417.0,1084.6 L419.0,1085.8 L421.0,1086.9 L423.0,1087.9 L425.0,1088.8 L427.0,1089.7 L429.0,1090.5 L431.0,1091.2 L433.0,1091.9 L435.0,1092.4 L437.0,1092.9 L439.0,1093.3 L441.0,1093.6 L443.0,1093.8 L445.0,1093.9 L447.0,1093.9 L449.0,1093.9 L451.0,1093.7 L453.0,1093.5 L455.0,1093.2 L457.0,1092.8 L459.0,1092.3 L461.0,1091.8 L463.0,1091.2 L465.0,1090.5 L467.0,1089.7 L469.0,1088.9 L471.0,1088.0 L473.0,1087.1 L475.0,1086.0 L477.0,1085.0 L479.0,1083.8 L481.0,1082.6 L483.0,1081.3 L485.0,1080.0 L487.0,1078.6 L489.0,1077.2 L491.0,1075.7 L493.0,1074.2 L495.0,1072.6 L497.0,1070.9 L499.0,1069.3 L501.0,1067.5 L503.0,1065.7 L505.0,1063.9 L507.0,1062.1 L509.0,1060.2 L511.0,1058.2 L513.0,1056.2 L515.0,1054.2 L517.0,1052.2 L519.0,1050.1 L521.0,1048.1 L523.0,1046.0 L525.0,1044.0 L527.0,1041.9 L529.0,1039.9 L531.0,1037.8 L533.0,1035.7 L535.0,1033.4 L537.0,1031.0 L539.0,1028.4 L541.0,1025.5 L543.0,1022.4 L545.0,1019.0 L547.0,1015.6 L549.0,1012.6 L551.0,1009.8 L553.0,1007.3 L555.0,1005.1 L557.0,1003.1 L559.0,1001.3 L561.0,999.6 L563.0,998.1 L565.0,996.6 L567.0,995.2 L569.0,993.8 L571.0,992.4 L573.0,991.0 L575.0,989.5 L577.0,987.9 L579.0,986.3 L581.0,984.7 L583.0,983.0 L585.0,981.4 L587.0,979.7 L589.0,978.1 L591.0,976.6 L593.0,975.1 L595.0,973.7 L597.0,972.5 L599.0,971.3 L601.0,970.2 L603.0,969.3 L605.0,968.4 L607.0,967.6 L609.0,966.8 L611.0,966.1 L613.0,965.2 L615.0,964.3 L617.0,963.4 L619.0,962.2 L621.0,961.0 L623.0,959.5 L625.0,957.9 L627.0,956.2 L629.0,954.6 L631.0,953.2 L633.0,952.1 L635.0,951.2 L637.0,950.5 L639.0,949.8 L641.0,949.2 L643.0,948.6 L645.0,948.0 L647.0,947.4 L649.0,946.7 L651.0,946.1 L653.0,945.4 L655.0,944.7 L657.0,944.1 L659.0,943.4 L661.0,942.8 L663.0,942.2 L665.0,941.6 L667.0,941.1 L669.0,940.5 L671.0,940.0 L673.0,939.6 L675.0,939.1 L677.0,938.8 L679.0,938.4 L681.0,938.1 L683.0,937.9 L685.0,937.6 L687.0,937.4 L689.0,937.3 L691.0,937.1 L693.0,937.0 L695.0,936.9 L697.0,936.8 L699.0,936.7 L701.0,936.6 L703.0,936.6 L705.0,936.5 L707.0,936.5 L709.0,936.5 L711.0,936.4 L713.0,936.4 L715.0,936.5 L717.0,936.5 L719.0,936.5 L721.0,936.5 L723.0,936.5 L725.0,936.6 L727.0,936.6 L729.0,936.6 L731.0,936.6 L733.0,936.5 L735.0,936.5 L737.0,936.4 L739.0,936.3 L741.0,936.1 L743.0,936.0 L745.0,935.9 L747.0,935.7 L749.0,935.6 L751.0,935.4 L753.0,935.3 L755.0,935.1 L757.0,934.9 L759.0,934.8 L761.0,934.6 L763.0,934.4 L765.0,934.3 L767.0,934.1 L769.0,933.9 L771.0,933.7 L773.0,933.6 L775.0,933.4 L777.0,933.2 L779.0,933.1 L781.0,932.9 L783.0,932.8 L785.0,932.6 L787.0,932.5 L789.0,932.3 L791.0,932.2 L793.0,932.0 L795.0,931.9 L797.0,931.8 L799.0,931.7 L801.0,931.6 L803.0,931.5 L805.0,931.4 L807.0,931.3 L809.0,931.2 L811.0,931.1 L813.0,931.1 L815.0,931.0 L817.0,931.0 L819.0,930.9 L821.0,930.9 L823.0,930.9 L825.0,930.9 L827.0,931.0 L829.0,931.0 L831.0,931.0 L833.0,931.1 L835.0,931.2 L837.0,931.3 L839.0,931.4 L841.0,931.5 L843.0,931.6 L845.0,931.8 L847.0,932.0 L849.0,932.2 L851.0,932.4 L853.0,932.6 L855.0,932.8 L857.0,933.1 L859.0,933.4 L861.0,933.7 L863.0,934.0 L865.0,934.4 L867.0,934.7 L869.0,935.1 L871.0,935.5" stroke="#000" stroke-width="7" fill="none" stroke-linejoin="round" stroke-linecap="round"/>
<path d="M147.0,997.4 L149.0,997.3 L151.0,996.5 L153.0,995.1 L155.0,993.3 L157.0,991.0 L159.0,988.4 L161.0,985.4 L163.0,982.2 L165.0,978.7 L167.0,975.2 L169.0,971.5 L171.0,967.8 L173.0,964.2 L175.0,960.6 L177.0,957.1 L179.0,953.7 L181.0,950.4 L183.0,947.3 L185.0,944.2 L187.0,941.4 L189.0,938.7 L191.0,936.2 L193.0,934.0 L195.0,931.9 L197.0,930.0 L199.0,928.4 L201.0,926.9 L203.0,925.6 L205.0,924.5 L207.0,923.4 L209.0,922.5 L211.0,921.7 L213.0,920.9 L215.0,920.2 L217.0,919.6 L219.0,919.0 L221.0,918.4 L223.0,917.7 L225.0,917.1 L227.0,916.5 L229.0,915.9 L231.0,915.2 L233.0,914.6 L235.0,914.0 L237.0,913.3 L239.0,912.7 L241.0,912.1 L243.0,911.5 L245.0,910.9 L247.0,910.3 L249.0,909.7 L251.0,909.2 L253.0,908.7 L255.0,908.2 L257.0,907.8 L259.0,907.4 L261.0,907.0 L263.0,906.7 L265.0,906.5 L267.0,906.3 L269.0,906.3 L271.0,906.2 L273.0,906.3 L275.0,906.4 L277.0,906.7 L279.0,907.0 L281.0,907.5 L283.0,908.0 L285.0,908.7 L287.0,909.4 L289.0,910.3 L291.0,911.3 L293.0,912.5 L295.0,913.8 L297.0,915.2 L299.0,916.8 L301.0,918.4 L303.0,920.2 L305.0,922.0 L307.0,923.8 L309.0,925.6 L311.0,927.5 L313.0,929.4 L315.0,931.4 L317.0,933.4 L319.0,935.5 L321.0,937.7 L323.0,939.9 L325.0,942.2 L327.0,944.6 L329.0,947.0 L331.0,949.5 L333.0,952.0 L335.0,954.6 L337.0,957.2 L339.0,959.9 L341.0,962.6 L343.0,965.3 L345.0,968.0 L347.0,970.8 L349.0,973.6 L351.0,976.4 L353.0,979.2 L355.0,982.1 L357.0,985.0 L359.0,987.9 L361.0,990.9 L363.0,993.8 L365.0,996.9 L367.0,999.9 L369.0,1003.1 L371.0,1006.3 L373.0,1009.5 L375.0,1012.8 L377.0,1016.1 L379.0,1019.5 L381.0,1022.9 L383.0,1026.4 L385.0,1029.8 L387.0,1033.1 L389.0,1036.4 L391.0,1039.6 L393.0,1042.8 L395.0,1045.8 L397.0,1048.8 L399.0,1051.7 L401.0,1054.6 L403.0,1057.3 L405.0,1060.0 L407.0,1062.6 L409.0,1065.1 L411.0,1067.5 L413.0,1069.9 L415.0,1072.2 L417.0,1074.4 L419.0,1076.5 L421.0,1078.6 L423.0,1080.6 L425.0,1082.5 L427.0,1084.4 L429.0,1086.1 L431.0,1087.8 L433.0,1089.5 L435.0,1091.0 L437.0,1092.5 L439.0,1094.0 L441.0,1095.3 L443.0,1096.6 L445.0,1097.8 L447.0,1099.0 L449.0,1100.1 L451.0,1101.1 L453.0,1102.0 L455.0,1102.9 L457.0,1103.7 L459.0,1104.5 L461.0,1105.2 L463.0,1105.8 L465.0,1106.3 L467.0,1106.8 L469.0,1107.2 L471.0,1107.6 L473.0,1107.9 L475.0,1108.1 L477.0,1108.3 L479.0,1108.4 L481.0,1108.4 L483.0,1108.4 L485.0,1108.3 L487.0,1108.2 L489.0,1108.0 L491.0,1107.7 L493.0,1107.3 L495.0,1106.9 L497.0,1106.4 L499.0,1105.9 L501.0,1105.3 L503.0,1104.6 L505.0,1103.8 L507.0,1103.0 L509.0,1102.1 L511.0,1101.1 L513.0,1100.1 L515.0,1098.9 L517.0,1097.8 L519.0,1096.5 L521.0,1095.2 L523.0,1093.8 L525.0,1092.4 L527.0,1090.8 L529.0,1089.3 L531.0,1087.6 L533.0,1085.9 L535.0,1084.2 L537.0,1082.4 L539.0,1080.5 L541.0,1078.6 L543.0,1076.6 L545.0,1074.6 L547.0,1072.5 L549.0,1070.4 L551.0,1068.3 L553.0,1066.1 L555.0,1063.9 L557.0,1061.7 L559.0,1059.7 L561.0,1057.6 L563.0,1055.7 L565.0,1053.9 L567.0,1052.1 L569.0,1050.3 L571.0,1048.6 L573.0,1046.9 L575.0,1045.2 L577.0,1043.5 L579.0,1041.8 L581.0,1040.0 L583.0,1038.2 L585.0,1036.3 L587.0,1034.4 L589.0,1032.3 L591.0,1030.3 L593.0,1028.1 L595.0,1026.0 L597.0,1023.9 L599.0,1021.8 L601.0,1019.7 L603.0,1017.7 L605.0,1015.7 L607.0,1013.8 L609.0,1011.9 L611.0,1010.0 L613.0,1008.1 L615.0,1006.2 L617.0,1004.4 L619.0,1002.5 L621.0,1000.6 L623.0,998.7 L625.0,996.8 L627.0,994.9 L629.0,992.9 L631.0,990.9 L633.0,989.0 L635.0,987.0 L637.0,985.1 L639.0,983.3 L641.0,981.5 L643.0,979.8 L645.0,978.2 L647.0,976.6 L649.0,975.1 L651.0,973.7 L653.0,972.4 L655.0,971.1 L657.0,969.9 L659.0,968.8 L661.0,967.7 L663.0,966.7 L665.0,965.7 L667.0,964.8 L669.0,963.9 L671.0,963.0 L673.0,962.2 L675.0,961.5 L677.0,960.7 L679.0,960.0 L681.0,959.4 L683.0,958.7 L685.0,958.1 L687.0,957.5 L689.0,956.9 L691.0,956.3 L693.0,955.8 L695.0,955.2 L697.0,954.7 L699.0,954.1 L701.0,953.6 L703.0,953.1 L705.0,952.6 L707.0,952.0 L709.0,951.5 L711.0,951.0 L713.0,950.5 L715.0,950.0 L717.0,949.5 L719.0,949.0 L721.0,948.6 L723.0,948.1 L725.0,947.6 L727.0,947.2 L729.0,946.8 L731.0,946.3 L733.0,945.9 L735.0,945.5 L737.0,945.1 L739.0,944.7 L741.0,944.3 L743.0,943.9 L745.0,943.6 L747.0,943.2 L749.0,942.9 L751.0,942.6 L753.0,942.2 L755.0,941.9 L757.0,941.6 L759.0,941.4 L761.0,941.1 L763.0,940.8 L765.0,940.6 L767.0,940.3 L769.0,940.1 L771.0,939.8 L773.0,939.6 L775.0,939.4 L777.0,939.2 L779.0,939.0 L781.0,938.8 L783.0,938.6 L785.0,938.4 L787.0,938.3 L789.0,938.1 L791.0,938.0 L793.0,937.8 L795.0,937.7 L797.0,937.6 L799.0,937.4 L801.0,937.3 L803.0,937.2 L805.0,937.1 L807.0,937.0 L809.0,936.9 L811.0,936.8 L813.0,936.7 L815.0,936.7 L817.0,936.6 L819.0,936.5 L821.0,936.5 L823.0,936.4 L825.0,936.4 L827.0,936.3 L829.0,936.3 L831.0,936.2 L833.0,936.2 L835.0,936.2 L837.0,936.1 L839.0,936.1 L841.0,936.1 L843.0,936.1 L845.0,936.1 L847.0,936.1 L849.0,936.0 L851.0,936.0 L853.0,936.0 L855.0,936.0 L857.0,936.0 L859.0,936.0 L861.0,936.0 L863.0,936.0 L865.0,936.0 L867.0,936.0 L869.0,936.0 L871.0,936.0" stroke="#FA8C0A" stroke-width="7" fill="none" stroke-linejoin="round" stroke-linecap="round"/>
</g>
<text x="3.6" y="53.8" font-family="Liberation Sans" font-size="48" letter-spacing="1">(a)</text>
<text x="0.1" y="350.9" font-family="Liberation Sans" font-size="48" letter-spacing="1">(b)</text>
<text x="8.5" y="637.3" font-family="Liberation Sans" font-size="48" letter-spacing="1">(c)</text>
<text x="8.5" y="913.8" font-family="Liberation Sans" font-size="48" letter-spacing="1">(d)</text>
<text transform="translate(116,277) rotate(-90)" x="0" y="0" font-family="Liberation Sans" font-size="48">d<tspan font-style="italic">X</tspan><tspan font-size="55" dy="-6">&apos;&apos;</tspan><tspan dy="6">/d</tspan><tspan font-style="italic" dx="2.5">B</tspan><tspan dx="-3"> (a.u.)</tspan></text>
<text transform="translate(122.5,565) rotate(-90)" x="0" y="0" font-family="Liberation Sans" font-size="48">d<tspan font-style="italic">X</tspan><tspan font-size="55" dy="-6">&apos;&apos;</tspan><tspan dy="6">/d</tspan><tspan font-style="italic" dx="2.5">B</tspan><tspan dx="-3"> (a.u.)</tspan></text>
<text transform="translate(119.5,847) rotate(-90)" x="0" y="0" font-family="Liberation Sans" font-size="48">d<tspan font-style="italic">X</tspan><tspan font-size="55" dy="-6">&apos;&apos;</tspan><tspan dy="6">/d</tspan><tspan font-style="italic" dx="2.5">B</tspan><tspan dx="-3"> (a.u.)</tspan></text>
<text transform="translate(121.5,1157) rotate(-90)" x="0" y="0" font-family="Liberation Sans" font-size="48">d<tspan font-style="italic">X</tspan><tspan font-size="55" dy="-6">&apos;&apos;</tspan><tspan dy="6">/d</tspan><tspan font-style="italic" dx="2.5">B</tspan><tspan dx="-3"> (a.u.)</tspan></text>
<text x="144.5" y="1212" font-family="Liberation Sans" font-size="49" text-anchor="middle">0.0</text>
<text x="387.5" y="1212" font-family="Liberation Sans" font-size="49" text-anchor="middle">0.2</text>
<text x="630.5" y="1212" font-family="Liberation Sans" font-size="49" text-anchor="middle">0.4</text>
<text x="873.5" y="1212" font-family="Liberation Sans" font-size="49" text-anchor="middle">0.6</text>
<text x="541" y="1268" font-family="Liberation Sans" font-size="48" text-anchor="middle"><tspan font-style="italic">B</tspan> (T)</text>
<text x="171" y="238.5" font-family="Liberation Sans" font-size="45">H II [100]</text>
<text x="369.6" y="94.5" font-family="Liberation Sans" font-size="45" fill="#FA8C0A">H II [110]</text>
</svg></body></html>
